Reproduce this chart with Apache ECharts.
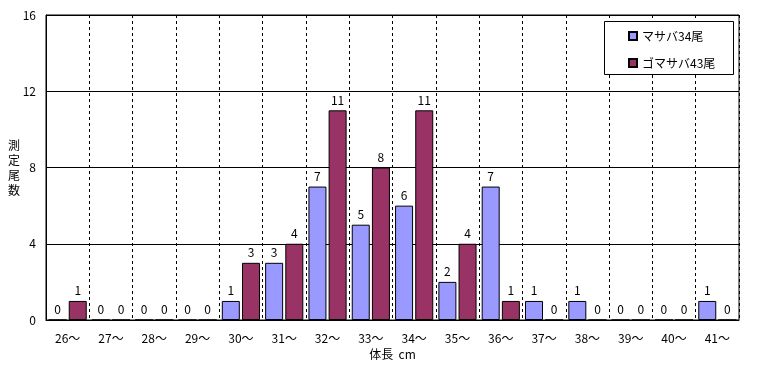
<!DOCTYPE html>
<html>
<head>
<meta charset="utf-8">
<script src="https://cdn.jsdelivr.net/npm/echarts@6/dist/echarts.min.js"></script>
<style>html,body{margin:0;padding:0;background:#fff;}#c{width:760px;height:365px;}</style>
</head>
<body>
<div id="c"></div>
<script>
var categories = ['26～','27～','28～','29～','30～','31～','32～','33～','34～','35～','36～','37～','38～','39～','40～','41～'];
var mackerel = [0,0,0,0,1,3,7,5,6,2,7,1,1,0,0,1];
var spotted = [1,0,0,0,3,4,11,8,11,4,1,0,0,0,0,0];
var seriesNames = ['マサバ34尾','ゴマサバ43尾'];
var yTicks = {min:0, max:16, interval:4};

var FONT = '"Noto Sans CJK JP", sans-serif';
var chart = echarts.init(document.getElementById('c'), null, {renderer:'canvas'});
var labelStyle = {show:true, position:'top', distance:4, color:'#000', fontSize:12, fontFamily:FONT};
chart.setOption({
  animation:false,
  backgroundColor:'#fff',
  textStyle:{fontFamily:FONT, color:'#000'},
  grid:{left:46, right:21, top:15, bottom:45, show:true, borderColor:'#000', borderWidth:1, backgroundColor:'transparent', outerBoundsMode:'none', containLabel:false},
  graphic:[{type:'rect', left:604, top:21, shape:{width:129, height:53}, style:{fill:'#fff', stroke:'#000', lineWidth:1}, z:100}],
  legend:{
    orient:'vertical', left:623, top:25, itemWidth:8, itemHeight:8, itemGap:15, z:101,
    textStyle:{fontSize:12, fontFamily:FONT, color:'#000'},
    data:seriesNames.map(function(n){return {name:n, icon:'rect'};})
  },
  xAxis:{
    type:'category', data:categories, boundaryGap:true,
    name:'体長  cm', nameLocation:'middle', nameGap:28, nameMoveOverlap:false,
    nameTextStyle:{fontSize:12, fontFamily:FONT, color:'#000'},
    axisLine:{lineStyle:{color:'#000', width:1}},
    axisTick:{show:false},
    axisLabel:{color:'#000', fontSize:12, margin:12, fontFamily:FONT},
    splitLine:{show:true, lineStyle:{color:'#000', type:[3,3], width:1}}
  },
  yAxis:{
    type:'value', min:yTicks.min, max:yTicks.max, interval:yTicks.interval,
    name:'測\n定\n尾\n数', nameLocation:'middle', nameRotate:0, nameGap:32, nameMoveOverlap:false,
    nameTextStyle:{fontSize:12, fontFamily:FONT, color:'#000', lineHeight:15, align:'center', verticalAlign:'middle'},
    axisLine:{show:true, lineStyle:{color:'#000', width:1}},
    axisTick:{show:false},
    axisLabel:{color:'#000', fontSize:12, margin:10, fontFamily:FONT},
    splitLine:{show:true, lineStyle:{color:'#000', width:1}}
  },
  series:[
    {name:seriesNames[0], type:'bar', data:mackerel, barWidth:18, barGap:'12%',
     itemStyle:{color:'#9999FF', borderColor:'#000', borderWidth:1}, label:labelStyle},
    {name:seriesNames[1], type:'bar', data:spotted, barWidth:18,
     itemStyle:{color:'#993366', borderColor:'#000', borderWidth:1}, label:labelStyle}
  ]
});
</script>
</body>
</html>
